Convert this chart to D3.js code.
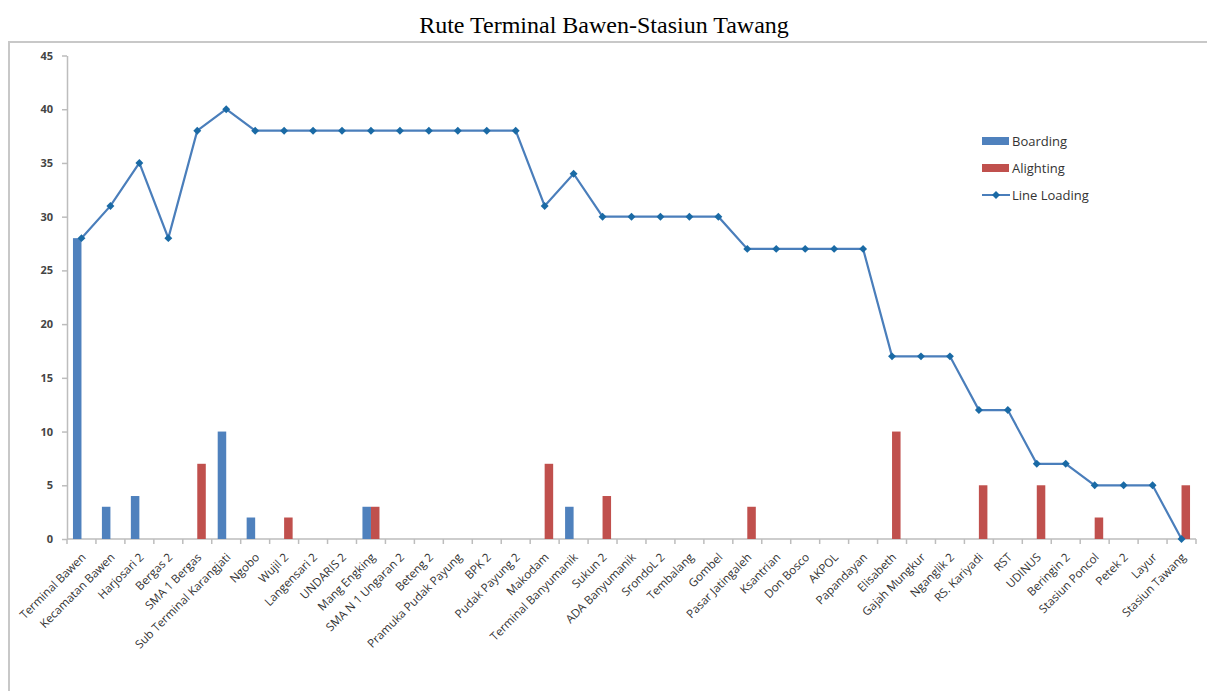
<!DOCTYPE html>
<html><head><meta charset="utf-8">
<script src="https://cdn.jsdelivr.net/npm/d3@7"></script>
<style>body{margin:0;background:#fff;}svg{display:block;}</style>
</head><body>
<script>
const categories = ["Terminal Bawen","Kecamatan Bawen","Harjosari 2","Bergas 2","SMA 1 Bergas","Sub Terminal Karangjati","Ngobo","Wujil 2","Langensari 2","UNDARIS 2","Mang Engking","SMA N 1 Ungaran 2","Beteng 2","Pramuka Pudak Payung","BPK 2","Pudak Payung 2","Makodam","Terminal Banyumanik","Sukun  2","ADA Banyumanik","SrondoL 2","Tembalang","Gombel","Pasar Jatingaleh","Ksantrian","Don Bosco","AKPOL","Papandayan","Elisabeth","Gajah Mungkur","Nganglik 2","RS. Kariyadi","RST","UDINUS","Beringin 2","Stasiun Poncol","Petek 2","Layur","Stasiun Tawang"];
const boarding  = [28,3,4,0,0,10,2,0,0,0,3,0,0,0,0,0,0,3,0,0,0,0,0,0,0,0,0,0,0,0,0,0,0,0,0,0,0,0,0];
const alighting = [0,0,0,0,7,0,0,2,0,0,3,0,0,0,0,0,7,0,4,0,0,0,0,3,0,0,0,0,10,0,0,5,0,5,0,2,0,0,5];
const lineLoading = [28,31,35,28,38,40,38,38,38,38,38,38,38,38,38,38,31,34,30,30,30,30,30,27,27,27,27,27,17,17,17,12,12,7,7,5,5,5,0];
const yTicks = [0,5,10,15,20,25,30,35,40,45];
const seriesNames = ["Boarding","Alighting","Line Loading"];
const chartTitle = "Rute Terminal Bawen-Stasiun Tawang";

const W=1207,H=691;
const svg=d3.select("body").append("svg").attr("width",W).attr("height",H);
// frame
svg.append("path").attr("d","M9,691 V42 H1207").attr("fill","none").attr("stroke","#c8c8c8").attr("stroke-width",2);
svg.append("text").attr("x",604).attr("y",33).attr("text-anchor","middle")
  .attr("font-family","Liberation Serif, Times New Roman, serif").attr("font-size",24).attr("fill","#000").text(chartTitle);

const pL=67,pR=1196,pT=55.5,pB=539;
const x=d3.scaleBand().domain(categories).range([pL,pR]).padding(0);
const y=d3.scaleLinear().domain([0,45]).range([pB,pT]);
const inner=d3.scaleBand().domain(["b","a"]).range([0,x.bandwidth()]).paddingInner(0).paddingOuter(0.7);

const g=svg.append("g");
// y axis
const ya=g.append("g").attr("transform",`translate(${pL},0)`).call(d3.axisLeft(y).tickValues(yTicks).tickSize(5).tickSizeOuter(0));
ya.select(".domain").attr("stroke","#bdbdbd").attr("stroke-width",1.5);
ya.selectAll(".tick line").attr("stroke","#bdbdbd").attr("stroke-width",1.5);
ya.selectAll("text").attr("font-family","Open Sans, Liberation Sans, sans-serif").attr("font-size",11).attr("font-weight","bold").attr("fill","#444").attr("x",-14).attr("text-anchor","end");

// x axis
const xa=g.append("g").attr("transform",`translate(0,${pB})`);
xa.append("line").attr("x1",pL).attr("x2",pR).attr("y1",0).attr("y2",0).attr("stroke","#bdbdbd").attr("stroke-width",1.5);
const bounds=categories.map(c=>x(c)).concat([pR]);
xa.selectAll("line.tk").data(bounds).join("line").attr("class","tk")
  .attr("x1",d=>d).attr("x2",d=>d).attr("y1",0).attr("y2",5).attr("stroke","#bdbdbd").attr("stroke-width",1.5);
xa.selectAll("text").data(categories).join("text")
  .attr("transform",d=>`translate(${x(d)+x.bandwidth()/2+5},${19}) rotate(-45)`)
  .attr("text-anchor","end").attr("font-family","Open Sans, Liberation Sans, sans-serif").attr("font-size",11.6).attr("fill","#333")
  .text(d=>d);

// bars
const bars=g.append("g");
bars.selectAll("rect.b").data(categories).join("rect").attr("class","b")
  .attr("x",d=>x(d)+inner("b")).attr("width",inner.bandwidth())
  .attr("y",(d,i)=>y(boarding[i])).attr("height",(d,i)=>pB-y(boarding[i])).attr("fill","#4f81bd");
bars.selectAll("rect.a").data(categories).join("rect").attr("class","a")
  .attr("x",d=>x(d)+inner("a")).attr("width",inner.bandwidth())
  .attr("y",(d,i)=>y(alighting[i])).attr("height",(d,i)=>pB-y(alighting[i])).attr("fill","#c0504d");

// line
const line=d3.line().x((d,i)=>x(categories[i])+x.bandwidth()/2).y(d=>y(d));
g.append("path").datum(lineLoading).attr("d",line).attr("fill","none").attr("stroke","#4a7ebb").attr("stroke-width",2.2);
const diamond=d3.symbol().type(d3.symbolDiamond2).size(40);
g.selectAll("path.m").data(lineLoading).join("path").attr("class","m")
  .attr("transform",(d,i)=>`translate(${x(categories[i])+x.bandwidth()/2},${y(d)})`)
  .attr("d",diamond).attr("fill","#1a6aa5");

// legend
const lg=svg.append("g").attr("font-family","Open Sans, Liberation Sans, sans-serif").attr("font-size",13).attr("fill","#333");
const ly=[141,168,195];
lg.append("rect").attr("x",982).attr("y",ly[0]-4).attr("width",27).attr("height",8).attr("fill","#4f81bd");
lg.append("rect").attr("x",982).attr("y",ly[1]-4).attr("width",27).attr("height",8).attr("fill","#c0504d");
lg.append("line").attr("x1",982).attr("x2",1010).attr("y1",ly[2]).attr("y2",ly[2]).attr("stroke","#4a7ebb").attr("stroke-width",2);
lg.append("path").attr("transform",`translate(996,${ly[2]})`).attr("d",diamond).attr("fill","#1a6aa5");
seriesNames.forEach((s,i)=>lg.append("text").attr("x",1012).attr("y",ly[i]).attr("dy","0.35em").text(s));
</script>
</body></html>
